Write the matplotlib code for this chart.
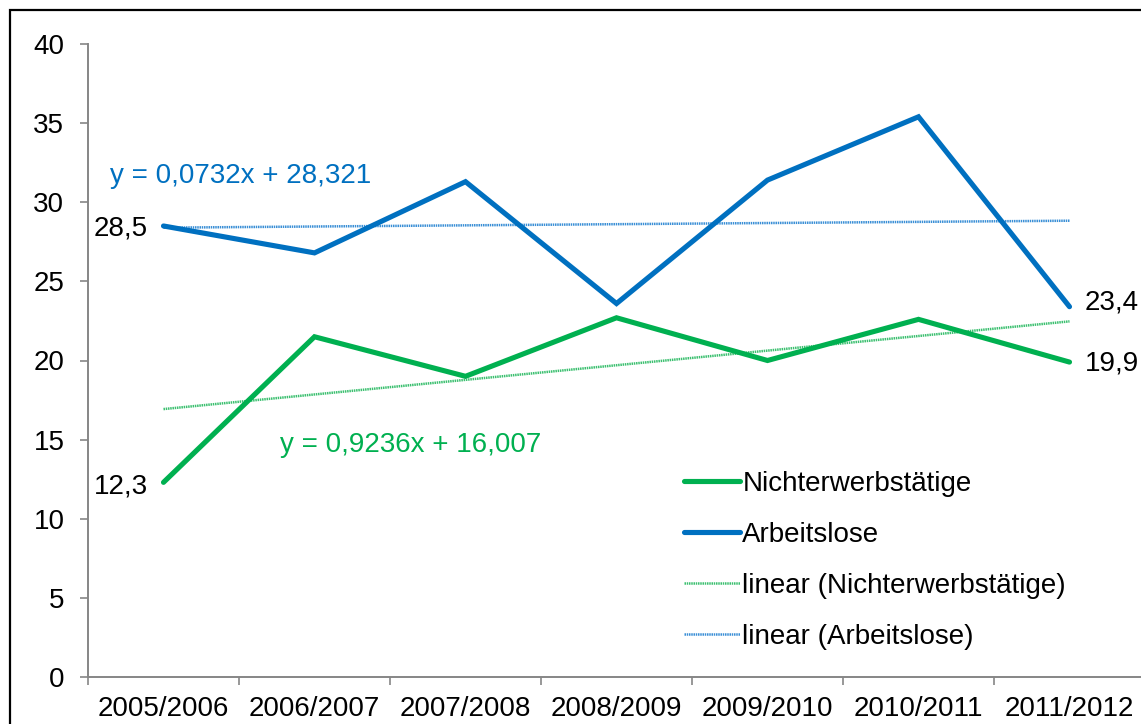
import numpy as np
import matplotlib.pyplot as plt
from matplotlib.patches import Rectangle

plt.rcParams['font.family'] = ['Liberation Sans', 'DejaVu Sans']

# data
jahre = ['2005/2006', '2006/2007', '2007/2008', '2008/2009',
         '2009/2010', '2010/2011', '2011/2012']
nichterwerb = [12.3, 21.5, 19.0, 22.7, 20.0, 22.6, 19.9]
arbeitslose = [28.5, 26.8, 31.3, 23.6, 31.4, 35.4, 23.4]

# trend coefficients as printed in the chart
trend_nichterwerb = (0.9236, 16.007)
trend_arbeitslose = (0.0732, 28.321)

gruen = '#00B050'
blau = '#0070C0'
grau = '#868686'

W, H = 1141, 724
fig = plt.figure(figsize=(W / 100, H / 100), dpi=100)

# outer chart frame (Excel chart area border, cropped on right/bottom)
fig.patches.append(Rectangle((10 / W, -0.1), 1.2, 1 - 10 / H + 0.1,
                             transform=fig.transFigure, fill=False,
                             edgecolor='black', linewidth=1.6))

left, right, bottom, top = 88, 1145, 677, 44
ax = fig.add_axes([left / W, 1 - bottom / H, (right - left) / W, (bottom - top) / H])

x = np.arange(1, len(jahre) + 1)
ax.plot(x, nichterwerb, color=gruen, lw=3.7, solid_capstyle='round',
        solid_joinstyle='miter', label='Nichterwerbstätige', zorder=3)
ax.plot(x, arbeitslose, color=blau, lw=3.7, solid_capstyle='round',
        solid_joinstyle='miter', label='Arbeitslose', zorder=3)

m, b = trend_nichterwerb
ax.plot(x[[0, -1]], m * x[[0, -1]] + b, color='#3CC070', lw=1.8,
        ls=(0, (0.6, 0.3)), label='linear (Nichterwerbstätige)', zorder=2)
m, b = trend_arbeitslose
ax.plot(x[[0, -1]], m * x[[0, -1]] + b, color='#3A8FD6', lw=1.8,
        ls=(0, (0.6, 0.3)), label='linear (Arbeitslose)', zorder=2)

fs = 20
ax.set_xlim(0.5, len(jahre) + 0.5)
ax.set_ylim(0, 40)
ax.set_yticks(np.arange(0, 41, 5))
ax.tick_params(axis='y', labelsize=fs, length=6, width=1.2, color=grau, pad=11)

ax.set_xticks(x)
ax.set_xticklabels(jahre, fontsize=fs)
ax.set_xticks(np.arange(0.5, len(jahre) + 1, 1), minor=True)
ax.tick_params(axis='x', which='major', length=0, pad=14)
ax.tick_params(axis='x', which='minor', length=6, width=1.2, color=grau)

for s in ['top', 'right']:
    ax.spines[s].set_visible(False)
for s in ['left', 'bottom']:
    ax.spines[s].set_color(grau)
    ax.spines[s].set_linewidth(1.4)

# data labels at first and last point
def komma(v):
    return f'{v:.1f}'.replace('.', ',')

ax.annotate(komma(arbeitslose[0]), (x[0], arbeitslose[0]),
            xytext=(-11, -2), textcoords='offset points', ha='right', va='center', fontsize=fs)
ax.annotate(komma(nichterwerb[0]), (x[0], nichterwerb[0]),
            xytext=(-11, -3), textcoords='offset points', ha='right', va='center', fontsize=fs)
ax.annotate(komma(arbeitslose[-1]), (x[-1], arbeitslose[-1]),
            xytext=(11, 3), textcoords='offset points', ha='left', va='center', fontsize=fs)
ax.annotate(komma(nichterwerb[-1]), (x[-1], nichterwerb[-1]),
            xytext=(11, -1), textcoords='offset points', ha='left', va='center', fontsize=fs)

# trend equations
def gleichung(m, b):
    return f'y = {m:.4f}x + {b:.3f}'.replace('.', ',')

fig.text(110 / W, 1 - 176 / H, gleichung(*trend_arbeitslose), color=blau,
         fontsize=fs, ha='left', va='center')
fig.text(280 / W, 1 - 445 / H, gleichung(*trend_nichterwerb), color=gruen,
         fontsize=fs, ha='left', va='center')

fig.legend(loc='upper left', bbox_to_anchor=(684 / W, 1 - 471 / H),
           frameon=False, fontsize=fs, handlelength=2.0, handletextpad=0.1,
           labelspacing=0.9, borderpad=0, borderaxespad=0)

fig.savefig('out.png', dpi=100)
